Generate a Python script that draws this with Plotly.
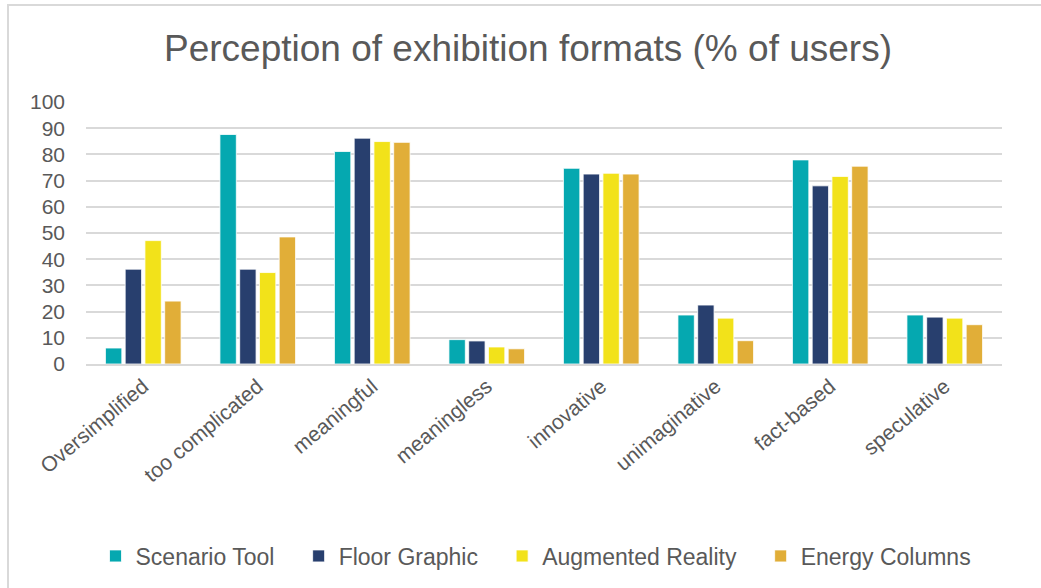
import plotly.graph_objects as go

categories = ["Oversimplified", "too complicated", "meaningful", "meaningless",
              "innovative", "unimaginative", "fact-based", "speculative"]
series_names = ["Scenario Tool", "Floor Graphic", "Augmented Reality", "Energy Columns"]
scenario_tool = [6.1, 87.6, 81.1, 9.3, 74.7, 18.7, 77.9, 18.7]
floor_graphic = [36.2, 36.2, 86.2, 8.8, 72.5, 22.5, 68.0, 17.9]
augmented_reality = [47.1, 34.9, 84.9, 6.5, 72.8, 17.5, 71.6, 17.5]
energy_columns = [24.0, 48.5, 84.6, 5.8, 72.5, 8.9, 75.5, 15.0]
colors = ["#05A8B0", "#283F6E", "#F2E21A", "#E1AE38"]

W, H = 1041, 588
L, R, T, B = 86, 39, 102, 224
pw, ph = W - L - R, H - T - B

def px_x(x):
    return (x - L) / pw

def px_y(y):
    return (H - B - y) / ph

fig = go.Figure()
all_vals = [scenario_tool, floor_graphic, augmented_reality, energy_columns]
for i, (name, vals, col) in enumerate(zip(series_names, all_vals, colors)):
    label = name + ("\u00a0" * 3 if i < len(series_names) - 1 else "")
    fig.add_trace(go.Bar(x=categories, y=vals, name=label,
                         hovertemplate=name + ": %{y}<extra></extra>",
                         marker=dict(color=col, line=dict(color="white", width=0.8))))

font_family = "Liberation Sans, Arial, sans-serif"
fig.update_layout(
    width=W, height=H,
    margin=dict(l=L, r=R, t=T, b=B, autoexpand=False),
    paper_bgcolor="white", plot_bgcolor="white",
    barmode="group", bargap=0.31, bargroupgap=0.17,
    font=dict(family=font_family, color="#595959", size=20),
    title=dict(text="Perception of exhibition formats (% of users)",
               x=px_x(528), xref="paper", xanchor="center",
               y=1 - 48 / H, yref="container", yanchor="middle",
               font=dict(size=37, color="#595959", family=font_family)),
    xaxis=dict(tickangle=-40, showgrid=False, showline=True, linecolor="#d9d9d9",
               linewidth=2, ticks="", tickfont=dict(size=21, color="#595959")),
    yaxis=dict(range=[0, 100], dtick=10, showgrid=True, gridcolor="#d9d9d9",
               gridwidth=1.5, zeroline=False, showline=False, ticks="",
               ticklabelstandoff=20, tickfont=dict(size=21, color="#595959")),
    legend=dict(orientation="h", x=px_x(536), xanchor="center",
                y=px_y(556), yanchor="middle",
                font=dict(size=23, color="#595959"), itemwidth=30,
                traceorder="normal"),
    shapes=[dict(type="rect", xref="paper", yref="paper",
                 x0=px_x(8), x1=px_x(1046), y0=px_y(5), y1=px_y(594),
                 line=dict(color="#d9d9d9", width=2), layer="below")],
)

fig.write_html("out.html")
